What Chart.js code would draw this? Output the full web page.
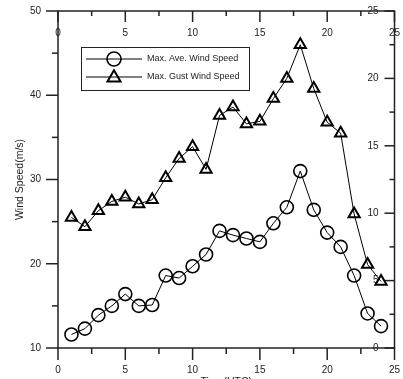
<!DOCTYPE html>
<html>
<head>
<meta charset="utf-8">
<script src="https://cdn.jsdelivr.net/npm/chart.js@4/dist/chart.umd.min.js"></script>
<style>
  html, body { margin: 0; padding: 0; background: #fff; }
  #wrap { width: 403px; height: 379px; position: relative; }
</style>
</head>
<body>
<div id="wrap"><canvas id="windChart"></canvas></div>
<script>
// Horas (UTC) e velocidades do vento
const hours = [1, 2, 3, 4, 5, 6, 7, 8, 9, 10, 11, 12, 13, 14, 15, 16, 17, 18, 19, 20, 21, 22, 23, 24];
const aveSpeed = [11.6, 12.3, 13.9, 15.0, 16.4, 15.0, 15.1, 18.6, 18.3, 19.7, 21.1, 23.9,
                  23.4, 23.0, 22.6, 24.8, 26.7, 31.0, 26.4, 23.7, 22.0, 18.6, 14.1, 12.6];
const gustSpeed = [25.5, 24.4, 26.3, 27.4, 27.9, 27.1, 27.6, 30.2, 32.5, 33.9, 31.2, 37.6,
                   38.6, 36.6, 36.9, 39.6, 42.0, 46.0, 40.8, 36.8, 35.5, 25.9, 19.9, 17.9];

const seriesLabels = ['Max. Ave. Wind Speed', 'Max. Gust Wind Speed'];
const xTicks = [0, 5, 10, 15, 20, 25];
const xMinor = [2.5, 7.5, 12.5, 17.5, 22.5];
const yTicks = [10, 20, 30, 40, 50];
const yMinor = [15, 25, 35, 45];
const y2Ticks = [0, 5, 10, 15, 20, 25];
const y2Minor = [2.5, 7.5, 12.5, 17.5, 22.5];
const yTitle = 'Wind Speed(m/s)';
const xTitle = 'Time(UTC)';

const FONT = '"Liberation Sans", Arial, sans-serif';
const INK = '#222';

// Eixos no estilo do Origin: desenhados a partir das escalas do Chart.js
const originAxes = {
  id: 'originAxes',
  beforeDatasetsDraw(chart) {
    const { ctx, chartArea: a, scales } = chart;
    const seg = (x1, y1, x2, y2) => { ctx.beginPath(); ctx.moveTo(x1, y1); ctx.lineTo(x2, y2); ctx.stroke(); };
    ctx.save();
    ctx.strokeStyle = INK;
    ctx.lineWidth = 1.5;
    ctx.strokeRect(a.left, a.top, a.right - a.left, a.bottom - a.top);

    // ticks
    xTicks.forEach(v => { const p = scales.x.getPixelForValue(v); seg(p, a.bottom, p, a.bottom + 12); });
    xMinor.forEach(v => { const p = scales.x.getPixelForValue(v); seg(p, a.bottom, p, a.bottom + 6); });
    xTicks.forEach(v => { const p = scales.x2.getPixelForValue(v); seg(p, a.top, p, a.top + 11); });
    xMinor.forEach(v => { const p = scales.x2.getPixelForValue(v); seg(p, a.top, p, a.top + 5); });
    yTicks.forEach(v => { const p = scales.y.getPixelForValue(v); seg(a.left - 12, p, a.left, p); });
    yMinor.forEach(v => { const p = scales.y.getPixelForValue(v); seg(a.left - 6, p, a.left, p); });
    y2Ticks.forEach(v => { const p = scales.y2.getPixelForValue(v); seg(a.right - 10, p, a.right, p); });
    y2Minor.forEach(v => { const p = scales.y2.getPixelForValue(v); seg(a.right - 5, p, a.right, p); });

    // labels
    ctx.fillStyle = INK;
    ctx.font = '10px ' + FONT;
    ctx.textBaseline = 'middle';
    ctx.textAlign = 'center';
    xTicks.forEach(v => ctx.fillText(String(v), scales.x.getPixelForValue(v), a.bottom + 22));
    xTicks.forEach(v => ctx.fillText(String(v), scales.x2.getPixelForValue(v), a.top + 22));
    ctx.textAlign = 'right';
    yTicks.forEach(v => ctx.fillText(String(v), a.left - 17, scales.y.getPixelForValue(v)));
    y2Ticks.forEach(v => ctx.fillText(String(v), a.right - 16, scales.y2.getPixelForValue(v)));

    // titles
    ctx.font = '10.5px ' + FONT;
    ctx.textAlign = 'center';
    ctx.fillText(xTitle, (a.left + a.right) / 2, a.bottom + 34);
    ctx.save();
    ctx.translate(20, (a.top + a.bottom) / 2);
    ctx.rotate(-Math.PI / 2);
    ctx.fillText(yTitle, 0, 0);
    ctx.restore();
    ctx.restore();
  },
  afterDraw(chart) {
    const { ctx } = chart;
    ctx.save();
    ctx.fillStyle = '#fff';
    ctx.fillRect(81, 47, 168, 43);
    ctx.strokeStyle = INK;
    ctx.lineWidth = 1;
    ctx.strokeRect(81.5, 47.5, 168, 43);
    const rows = [59, 77];
    chart.data.datasets.forEach((ds, i) => {
      const y = rows[i];
      ctx.strokeStyle = '#000';
      ctx.lineWidth = 1;
      ctx.beginPath(); ctx.moveTo(86, y); ctx.lineTo(142, y); ctx.stroke();
      ctx.lineWidth = ds.pointBorderWidth;
      ctx.beginPath();
      if (ds.pointStyle === 'circle') {
        ctx.arc(114, y, 7, 0, Math.PI * 2);
      } else {
        const r = 7.5;
        ctx.moveTo(114, y - r * 0.9);
        ctx.lineTo(114 + r * 0.87, y + r * 0.6);
        ctx.lineTo(114 - r * 0.87, y + r * 0.6);
        ctx.closePath();
      }
      ctx.stroke();
      ctx.fillStyle = INK;
      ctx.font = '9px ' + FONT;
      ctx.textAlign = 'left';
      ctx.textBaseline = 'middle';
      ctx.fillText(ds.label, 147, y);
    });
    ctx.restore();
  }
};

const ctxWind = document.getElementById('windChart').getContext('2d');

const windChart = new Chart(ctxWind, {
  type: 'line',
  data: {
    datasets: [{
      label: seriesLabels[0],
      data: hours.map((h, i) => ({ x: h, y: aveSpeed[i] })),
      borderColor: '#000',
      borderWidth: 1,
      pointStyle: 'circle',
      pointRadius: 6.5,
      pointBorderWidth: 1.6,
      pointBorderColor: '#000',
      pointBackgroundColor: 'rgba(0,0,0,0)',
      tension: 0
    }, {
      label: seriesLabels[1],
      data: hours.map((h, i) => ({ x: h, y: gustSpeed[i] })),
      borderColor: '#000',
      borderWidth: 1,
      pointStyle: 'triangle',
      pointRadius: 6.5,
      pointBorderWidth: 2,
      pointBorderColor: '#000',
      pointBackgroundColor: 'rgba(0,0,0,0)',
      tension: 0
    }]
  },
  options: {
    responsive: true,
    maintainAspectRatio: false,
    animation: false,
    layout: { padding: { left: 58, right: 6, top: 11, bottom: 31 } },
    scales: {
      x: { type: 'linear', position: 'bottom', min: 0, max: 25, display: false },
      x2: { type: 'linear', position: 'top', min: 0, max: 25, display: false },
      y: { type: 'linear', position: 'left', min: 10, max: 50, display: false },
      y2: { type: 'linear', position: 'right', min: 0, max: 25, display: false }
    },
    plugins: {
      legend: { display: false },
      tooltip: { enabled: false }
    }
  },
  plugins: [originAxes]
});
</script>
</body>
</html>
